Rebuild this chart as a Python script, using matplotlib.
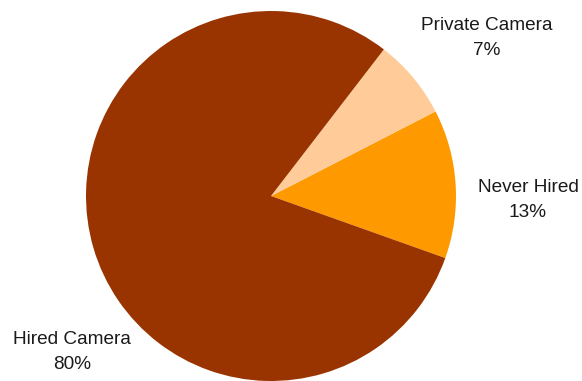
import matplotlib.pyplot as plt
import numpy as np

labels = ['Never Hired', 'Private Camera', 'Hired Camera']
values = [13, 7, 80]
colors = ['#ff9900', '#ffcc99', '#993300']
# where the labels sit, in pie radius units (center = 0,0)
label_pos = [(1.389, -0.022), (1.168, 0.854), (-1.076, -0.843)]

fig = plt.figure(figsize=(5.82, 3.81), dpi=100)
ax = fig.add_axes([0, 0, 1, 1])

r_px = 185
cx, cy = 271, 185
ax.pie(values, colors=colors, startangle=-19.6, counterclock=True,
       radius=1, wedgeprops=dict(linewidth=0))

for lab, v, (x, y) in zip(labels, values, label_pos):
    ax.text(x, y, f'{lab}\n{v}%', ha='center', va='center', fontsize=13.7,
            family='Liberation Sans', color='#1a1a1a', linespacing=1.55)

ax.set_xlim(-cx / r_px, (582 - cx) / r_px)
ax.set_ylim(-cy / r_px, (381 - cy) / r_px)
ax.set_aspect('auto')
ax.axis('off')

fig.savefig('out.png', dpi=100)
